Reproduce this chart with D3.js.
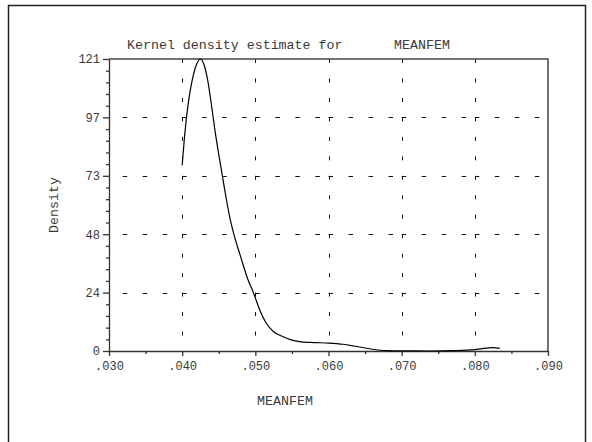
<!DOCTYPE html>
<html>
<head>
<meta charset="utf-8">
<script src="https://cdn.jsdelivr.net/npm/d3@7"></script>
<style>
  html, body { margin: 0; padding: 0; background: #fff; }
  svg { display: block; }
  text { font-family: "Liberation Mono", "Courier New", monospace; fill: #3a3a3a; }
</style>
</head>
<body>
<svg id="chart" width="592" height="442"></svg>
<script>
// ---- data ----
const meanfem = [0.0400, 0.0403, 0.0406, 0.0410, 0.0415, 0.0420, 0.0425, 0.0430, 0.0435, 0.0440,
                 0.0445, 0.0450, 0.0455, 0.0460, 0.0465, 0.0471, 0.0480, 0.0490, 0.0497, 0.0500,
                 0.0506, 0.0515, 0.0525, 0.0538, 0.0550, 0.0560, 0.0580, 0.0600, 0.0620, 0.0635,
                 0.0658, 0.0680, 0.0700, 0.0740, 0.0770, 0.0800, 0.0810, 0.0825, 0.0834];
const density = [77, 88, 97, 106, 114, 119, 121, 118.5, 112, 102,
                 91, 81.5, 72.5, 63.5, 55.5, 48, 39, 29.5, 24.5, 22,
                 17, 11.5, 8, 5.9, 4.5, 3.9, 3.5, 3.3, 2.8, 2.07,
                 0.83, 0.15, 0.05, 0.0, 0.15, 0.6, 1.0, 1.37, 1.1];
const xTickValues = [0.03, 0.04, 0.05, 0.06, 0.07, 0.08, 0.09];
const xTickLabels = [".030", ".040", ".050", ".060", ".070", ".080", ".090"];
const xMinorValues = [0.035, 0.045, 0.055, 0.065, 0.075, 0.085];
const yTickValues = [0, 24.2, 48.4, 72.6, 96.8, 121];
const yTickLabels = ["0", "24", "48", "73", "97", "121"];
const titleText = "Kernel density estimate for";
const titleVar = "MEANFEM";
const xLabel = "MEANFEM";
const yLabel = "Density";

// ---- layout ----
const svg = d3.select("#chart");
const L = 109, R = 548, T = 59, B = 351;
const x = d3.scaleLinear().domain([0.03, 0.09]).range([L, R]);
const y = d3.scaleLinear().domain([0, 121]).range([B, T]);

// outer frame
svg.append("rect").attr("x", 8.5).attr("y", 5.5).attr("width", 577).attr("height", 450)
  .attr("fill", "none").attr("stroke", "#222").attr("stroke-width", 1.5);

// minor y ticks
const yMinor = [];
for (let i = 0; i < yTickValues.length - 1; i++) {
  for (let k = 1; k < 5; k++) yMinor.push(yTickValues[i] + (yTickValues[i + 1] - yTickValues[i]) * k / 5);
}

// grid: horizontal
const gGrid = svg.append("g").attr("stroke", "#111").attr("stroke-width", 1);
yTickValues.slice(1, -1).forEach(v => {
  for (let i = 0; i < xTickValues.length - 1; i++) {
    gGrid.append("line")
      .attr("x1", x(xTickValues[i])).attr("x2", x(xTickValues[i + 1]))
      .attr("y1", Math.round(y(v)) + 0.5).attr("y2", Math.round(y(v)) + 0.5)
      .attr("stroke-dasharray", "4.5,15.5")
      .attr("stroke-dashoffset", i === 0 ? 6.3 : 0);
  }
});
// grid: vertical
xTickValues.slice(1, -1).forEach(v => {
  gGrid.append("line")
    .attr("x1", Math.round(x(v)) + 0.5).attr("x2", Math.round(x(v)) + 0.5)
    .attr("y1", T).attr("y2", B)
    .attr("stroke-dasharray", "4," + ((B - T) / 15 - 4));
});

// axes
const xAxis = d3.axisBottom(x).tickValues(xTickValues).tickFormat((d, i) => xTickLabels[i])
  .tickSizeInner(5).tickSizeOuter(0).tickPadding(5);
const gx = svg.append("g").attr("transform", `translate(0,${B})`).call(xAxis);
gx.selectAll("text").style("font-size", "12px").attr("fill", "#3a3a3a");
const xMinorAxis = d3.axisBottom(x).tickValues(xMinorValues).tickFormat("").tickSizeInner(3).tickSizeOuter(0);
svg.append("g").attr("transform", `translate(0,${B})`).call(xMinorAxis).select(".domain").remove();

const yAxis = d3.axisLeft(y).tickValues(yTickValues).tickFormat((d, i) => yTickLabels[i])
  .tickSizeInner(6).tickSizeOuter(0).tickPadding(3);
const gy = svg.append("g").attr("transform", `translate(${L},0)`).call(yAxis);
gy.selectAll("text").style("font-size", "12px").attr("fill", "#3a3a3a");
const yMinorAxis = d3.axisLeft(y).tickValues(yMinor).tickFormat("").tickSizeInner(3).tickSizeOuter(0);
svg.append("g").attr("transform", `translate(${L},0)`).call(yMinorAxis).select(".domain").remove();

svg.selectAll(".domain, .tick line").attr("stroke", "#333").attr("stroke-width", 1.3);

// frame top & right
svg.append("path").attr("d", `M${L},${T}H${R}V${B}`).attr("fill", "none")
  .attr("stroke", "#444").attr("stroke-width", 1.5);

// density curve
const pts = meanfem.map((m, i) => [m, density[i]]);
svg.append("path").datum(pts)
  .attr("d", d3.line().x(d => x(d[0])).y(d => y(d[1])).curve(d3.curveMonotoneX))
  .attr("fill", "none").attr("stroke", "#000").attr("stroke-width", 1.2);

// titles
svg.append("text").attr("x", 127).attr("y", 49).style("font-size", "13.3px").text(titleText);
svg.append("text").attr("x", 394).attr("y", 49).style("font-size", "13.3px").text(titleVar);
svg.append("text").attr("x", 257).attr("y", 405).style("font-size", "13.3px").text(xLabel);
svg.append("text").attr("transform", `translate(58,205) rotate(-90)`).attr("text-anchor", "middle")
  .style("font-size", "13.3px").text(yLabel);
</script>
</body>
</html>
